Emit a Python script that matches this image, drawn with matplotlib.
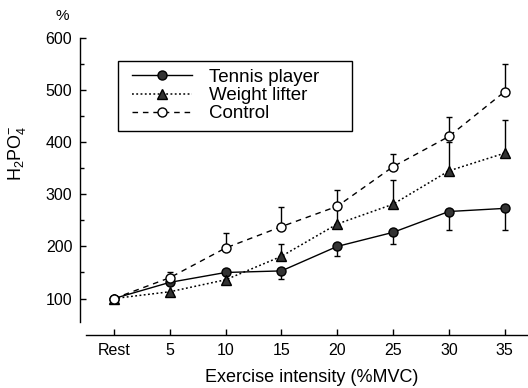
import matplotlib
matplotlib.use("Agg")
import matplotlib.pyplot as plt
import matplotlib.patches as mpatches
import numpy as np

plt.rcParams['font.family'] = ['Liberation Sans', 'DejaVu Sans']
plt.rcParams['mathtext.fontset'] = 'custom'
plt.rcParams['mathtext.rm'] = 'Liberation Sans'
plt.rcParams['mathtext.it'] = 'Liberation Sans:italic'

# Data
intensity = ['Rest', '5', '10', '15', '20', '25', '30', '35']
tennis = [100, 131, 150, 153, 200, 227, 267, 273]
tennis_err = [0, 0, 0, 16, 19, 23, 35, 42]          # shown downward
lifter = [100, 113, 136, 181, 243, 281, 345, 379]
lifter_err = [0, 0, 0, 24, 28, 47, 55, 64]          # shown upward
control = [100, 140, 197, 238, 277, 353, 411, 497]
control_err = [0, 11, 29, 38, 31, 25, 38, 54]       # shown upward

x = np.arange(len(intensity))
zeros = [0] * len(intensity)

fig = plt.figure(figsize=(5.28, 3.88), dpi=100)
ax = fig.add_axes([80 / 528, 1 - 335 / 388, 448 / 528, 297 / 388])

# error bars first so markers sit on top
ax.errorbar(x, tennis, yerr=[tennis_err, zeros], fmt='none', ecolor='black',
            elinewidth=1, capsize=2.3, capthick=1)
ax.errorbar(x, lifter, yerr=[zeros, lifter_err], fmt='none', ecolor='black',
            elinewidth=1, capsize=2.3, capthick=1)
ax.errorbar(x, control, yerr=[zeros, control_err], fmt='none', ecolor='black',
            elinewidth=1, capsize=2.3, capthick=1)

ax.plot(x, tennis, '-', color='black', lw=1, marker='o', ms=6.5,
        mfc='#333333', mec='black', label='Tennis player')
ax.plot(x, lifter, linestyle=(0, (1.2, 1.6)), color='black', lw=1.1, marker='^',
        ms=6.5, mfc='#333333', mec='black', label='Weight lifter')
ax.plot(x, control, linestyle=(0, (4, 3.5)), color='black', lw=1, marker='o',
        ms=6.5, mfc='white', mec='black', label='Control')

ax.set_xlim(-0.609, 7.418)
ax.set_ylim(30, 600)
ax.set_xticks(x)
ax.set_xticklabels(intensity)
ax.set_yticks([100, 200, 300, 400, 500, 600])
ax.set_yticks([150, 250, 350, 450, 550], minor=True)

for s in ['top', 'right']:
    ax.spines[s].set_visible(False)
ax.spines['left'].set_bounds(54, 600)
ax.spines['bottom'].set_bounds(-0.5, 7.418)
ax.spines['left'].set_linewidth(1)
ax.spines['bottom'].set_linewidth(1)

ax.tick_params(axis='both', which='major', direction='in', length=4,
               width=1, labelsize=11.5, pad=5.5)
ax.tick_params(axis='y', which='minor', direction='in', length=3, width=1)

# legend without frame; the box is drawn separately (it is wider than its content)
leg = ax.legend(loc='upper left', bbox_to_anchor=(131.7 / 528, 1 - 68.5 / 388),
                bbox_transform=fig.transFigure, fontsize=13.5, numpoints=1,
                handlelength=3.2, handletextpad=0.9, labelspacing=0.07,
                borderpad=0, borderaxespad=0, frameon=False)
fig.patches.append(mpatches.Rectangle((118 / 528, 1 - 131 / 388),
                                      (351.7 - 118) / 528, (131 - 60.7) / 388,
                                      transform=fig.transFigure, fill=False,
                                      edgecolor='black', linewidth=1))

fig.text(17 / 528, 1 - 153 / 388, r'H$_2$PO$_4^{-}$', rotation=90,
         ha='center', va='center', fontsize=13)
fig.text(62 / 528, 1 - 16 / 388, '%', ha='center', va='center', fontsize=11)
fig.text(312 / 528, 1 - 377 / 388, 'Exercise intensity (%MVC)',
         ha='center', va='center', fontsize=13)

fig.savefig('out.png', dpi=100)
